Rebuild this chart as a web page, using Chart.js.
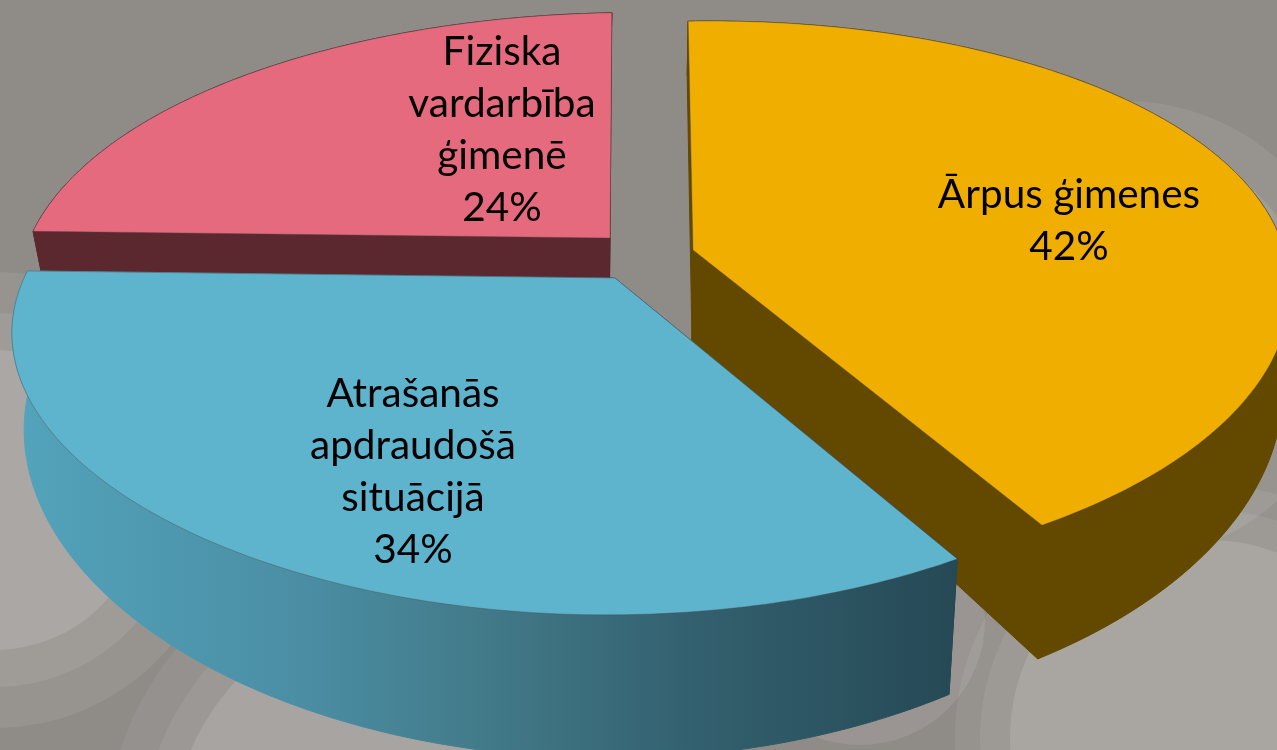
<!DOCTYPE html>
<html>
<head>
<meta charset="utf-8">
<style>html,body{margin:0;padding:0;background:#8f8b87;overflow:hidden}canvas{display:block}</style>
<script src="https://cdn.jsdelivr.net/npm/chart.js@4/dist/chart.umd.min.js"></script>
</head>
<body>
<canvas id="c" width="1277" height="750"></canvas>
<script>
const categories = ["Ārpus ģimenes", "Atrašanās apdraudošā situācijā", "Fiziska vardarbība ģimenē"];
const values = [42, 34, 24];
const labelLines = [["Ārpus ģimenes"], ["Atrašanās", "apdraudošā", "situācijā"], ["Fiziska", "vardarbība", "ģimenē"]];
const topColors = ["#f0ae00", "#5eb3cd", "#e66a7e"];
const sideColors = ["#634800", "#437c8b", "#5c2830"];
const edgeColor = "rgba(70,70,70,0.38)";

// Perspective view of the exploded pie (style only: angles come from Chart.js)
const view = { kx: 0.16, tilt: -10, depth: 90, shear: 18 };
const explode = [
  { x: 693, y: 250, rx: 588, a: 35, k: 0.18, ry: 270, ry2: 312, rx2Scale: 0.99 },
  { x: 615, y: 278, rx: 595, a: -30, k: 0.19, ry: 272.7, ry2: 316, rx2Scale: 0.978 },
  { x: 610, y: 238, rx: 584, a: -13, k: 0.19, ry: 268, ry2: 312, rx2Scale: 0.968 }
];
const labelAnchors = [
  { x: 1069, y: 208 },
  { x: 413, y: 407 },
  { x: 502, y: 65 }
];
const labelGap = 52;
const drawOrder = [2, 0, 1];

function project(s, u, v, bottom) {
  const w = 1 - s.k * v, wx = 1 - view.kx * v;
  const sh = v > 0 ? view.shear * v * v : 0;
  const off = s.a * (1 / wx - 1) + sh;
  if (!bottom) return [s.x + off + s.rx * u / wx, s.y + (s.ry * v + view.tilt * u) / w];
  return [s.x - 1 + off + s.rx * s.rx2Scale * u / wx, s.y + view.depth + (s.ry2 * v + view.tilt * u) / w];
}
function arcPts(s, a0, a1, bottom) {
  const pts = [], n = 160;
  for (let i = 0; i <= n; i++) {
    const t = a0 + (a1 - a0) * i / n;
    pts.push(project(s, Math.cos(t), Math.sin(t), bottom));
  }
  return pts;
}
function poly(ctx, pts) {
  ctx.beginPath();
  pts.forEach((p, i) => i ? ctx.lineTo(p[0], p[1]) : ctx.moveTo(p[0], p[1]));
  ctx.closePath();
}

const backdrop = {
  id: "backdrop",
  beforeDraw(chart) {
    const ctx = chart.ctx, W = chart.width, H = chart.height;
    ctx.save();
    ctx.fillStyle = "#8f8b87";
    ctx.fillRect(0, 0, W, H);
    const rings = [
      [1125, 330, 229, .08], [1125, 330, 190, .09],
      [1208, 738, 253, .07], [1208, 738, 228, .07], [1208, 738, 198, .13],
      [-5, 500, 228, .08], [-5, 500, 187, .08], [-5, 500, 150, .13],
      [420, 850, 316, .06], [420, 850, 280, .07], [420, 850, 250, .13],
      [860, 620, 125, .1]
    ];
    rings.forEach(r => {
      ctx.beginPath();
      ctx.arc(r[0], r[1], r[2], 0, Math.PI * 2);
      ctx.fillStyle = "rgba(255,250,250," + r[3] + ")";
      ctx.fill();
    });
    ctx.restore();
  }
};

const pie3d = {
  id: "pie3d",
  beforeDatasetDraw(chart, args) {
    const ctx = chart.ctx, arcs = chart.getDatasetMeta(args.index).data;
    ctx.save();
    ctx.lineJoin = "round";
    drawOrder.forEach(i => {
      const s = explode[i], a0 = arcs[i].startAngle, a1 = arcs[i].endAngle;
      const topPts = arcPts(s, a0, a1, false), botPts = arcPts(s, a0, a1, true);
      const cT = project(s, 0, 0, false), cB = project(s, 0, 0, true);
      let side = sideColors[i];
      if (i === 1) {
        side = ctx.createLinearGradient(20, 0, 955, 0);
        side.addColorStop(0, "#52a3bb");
        side.addColorStop(0.3, "#4b8ea4");
        side.addColorStop(0.48, "#437c8b");
        side.addColorStop(0.72, "#33606f");
        side.addColorStop(1, "#264955");
      }
      ctx.fillStyle = side;
      ctx.strokeStyle = side;
      ctx.lineWidth = 1;
      [[cT, topPts[0], botPts[0], cB], [cT, topPts[160], botPts[160], cB]].forEach(q => {
        poly(ctx, q); ctx.fill(); ctx.stroke();
      });
      poly(ctx, topPts.concat(botPts.slice().reverse()));
      ctx.fill();
      ctx.stroke();
      poly(ctx, [cT].concat(topPts));
      ctx.fillStyle = topColors[i];
      ctx.fill();
      ctx.strokeStyle = edgeColor;
      ctx.stroke();
    });
    ctx.restore();
    return false;
  },
  afterDatasetsDraw(chart) {
    const ctx = chart.ctx;
    ctx.save();
    ctx.fillStyle = "#000";
    ctx.textAlign = "center";
    ctx.textBaseline = "alphabetic";
    ctx.font = "40.5px Lato";
    labelLines.forEach((lines, i) => {
      const all = lines.concat([values[i] + "%"]);
      all.forEach((t, j) => ctx.fillText(t, labelAnchors[i].x, labelAnchors[i].y + j * labelGap));
    });
    ctx.restore();
  }
};

new Chart(document.getElementById("c"), {
  type: "pie",
  data: { labels: categories, datasets: [{ data: values, backgroundColor: topColors }] },
  options: {
    responsive: false,
    animation: false,
    layout: { padding: 0 },
    plugins: { legend: { display: false }, tooltip: { enabled: false } }
  },
  plugins: [backdrop, pie3d]
});
</script>
</body>
</html>
